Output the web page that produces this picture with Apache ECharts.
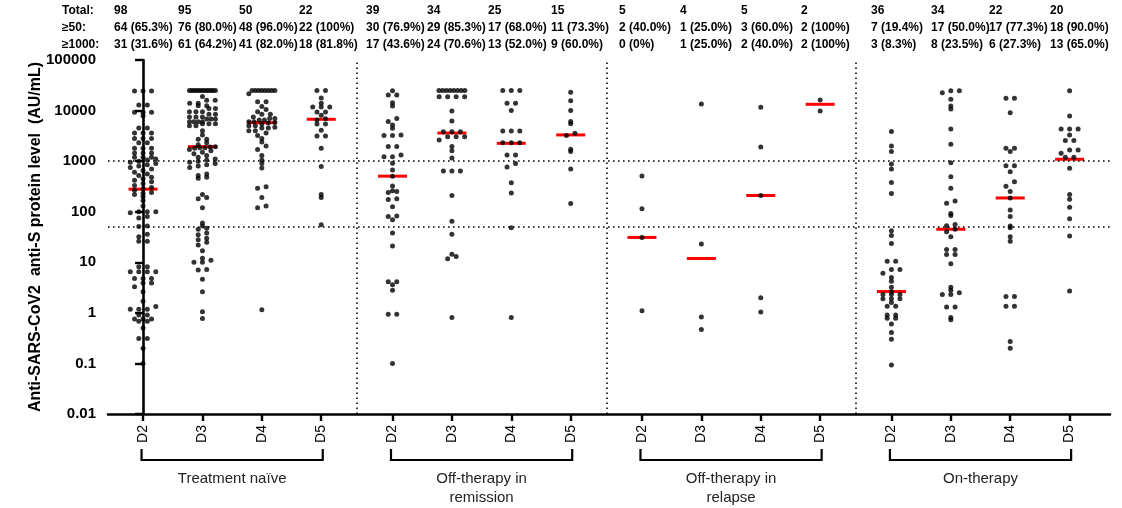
<!DOCTYPE html>
<html>
<head>
<meta charset="utf-8">
<title>Anti-S protein level by dose and group</title>
<script src="https://cdn.jsdelivr.net/npm/echarts@6/dist/echarts.min.js"></script>
<style>
  html, body { margin: 0; padding: 0; background: #fff; }
  #chart { width: 1122px; height: 508px; }
</style>
</head>
<body>
<div id="chart"></div>
<script>
const doses = ['D2', 'D3', 'D4', 'D5']
const groups = ['Treatment naïve', 'Off-therapy in\nremission', 'Off-therapy in\nrelapse', 'On-therapy']
const yTickLabels = ['0.01', '0.1', '1', '10', '100', '1000', '10000', '100000']

const totals = ['98', '95', '50', '22', '39', '34', '25', '15', '5', '4', '5', '2', '36', '34', '22', '20']
const atLeast50 = ['64 (65.3%)', '76 (80.0%)', '48 (96.0%)', '22 (100%)', '30 (76.9%)', '29 (85.3%)', '17 (68.0%)', '11 (73.3%)',
  '2 (40.0%)', '1 (25.0%)', '3 (60.0%)', '2 (100%)', '7 (19.4%)', '17 (50.0%)', '17 (77.3%)', '18 (90.0%)']
const atLeast1000 = ['31 (31.6%)', '61 (64.2%)', '41 (82.0%)', '18 (81.8%)', '17 (43.6%)', '24 (70.6%)', '13 (52.0%)', '9 (60.0%)',
  '0 (0%)', '1 (25.0%)', '2 (40.0%)', '2 (100%)', '3 (8.3%)', '8 (23.5%)', '6 (27.3%)', '13 (65.0%)']

// medians (red bars), AU/mL
const medians = [279, 1936, 5770, 6730, 505, 3600, 2250, 3300, 31, 11.9, 209, 13300, 2.64, 45, 187, 1090]

// Treatment naive
const naiveD2 = [24500, 24500, 24500, 12900, 12900, 9300, 9300, 9300, 7900, 4500, 4500, 3600, 3600, 3600,
  2800, 2800, 2800, 2300, 2300, 1800, 1800, 1800, 1450, 1450, 1450, 1200, 1200, 1200, 1100, 1050, 1000,
  950, 900, 850, 800, 750, 700, 650, 600, 560, 520, 480, 450, 420, 390, 360, 330, 300, 285,
  265, 240, 232, 220, 200, 166, 130, 100, 100, 100, 95, 80, 75, 52, 51,
  36, 32, 26, 26, 8.2, 8.2, 6.5, 6.5, 6.5, 6.5, 4.8, 4.8, 4.8, 3.9, 3.9, 3.3, 2.6, 1.7, 1.33,
  1.18, 1.18, 1.18, 0.91, 0.91, 0.76, 0.76, 0.76, 0.68, 0.68, 0.5, 0.31, 0.31, 0.2, 0.1]
const naiveD3 = [25000, 25000, 25000, 25000, 25000, 25000, 25000, 25000, 25000, 25000, 25000, 25000,
  19000, 16000, 16000, 14000, 14000, 12500, 12500, 11000, 11000, 9500, 9500, 9500, 8500, 8500,
  7500, 7500, 7500, 6800, 6800, 6800, 6000, 6000, 6000, 6000, 5500, 5500, 5500, 5000, 5000,
  4000, 3300, 2700, 2700, 2300, 2100, 1936,
  1900, 1850, 1850, 1800, 1700, 1600, 1500, 1400, 1300, 1200, 1100, 1050, 1000,
  950, 900, 850, 800, 750, 560, 520, 480, 460, 220, 190, 180, 120, 60, 52,
  47, 45, 38, 35, 30, 28, 25, 22, 17, 12, 11, 10, 10, 7.2, 7, 4.6, 2.6, 1.05, 0.77]
const naiveD4 = [25000, 25000, 25000, 25000, 25000, 25000, 25000, 25000, 21500, 15000, 15000, 12000, 10500,
  9500, 8500, 8500, 7500, 7000, 7000, 6500, 6500, 6000, 6000, 5800, 5700, 5400, 5000, 5000, 4700,
  4500, 4500, 4000, 4000, 3600, 3200, 2800, 2400, 2000, 1700, 1300, 1050,
  900, 730, 310, 290, 190, 130, 120, 1.15]
const naiveD5 = [25000, 25000, 17700, 14000, 11800, 11800, 11800, 9400, 9400, 8100, 6900, 6500,
  5400, 5400, 4100, 3150, 3150, 1800, 780, 220, 190, 55]

// Off-therapy in remission
const remissionD2 = [24700, 20300, 20300, 14300, 12300, 7000, 6060, 5200, 4470, 3300, 3200, 3200,
  1940, 1940, 1330, 1220, 1220, 910, 670, 505, 323, 260, 250, 240, 180, 175, 125, 82, 80, 69,
  38, 21, 4.1, 4.1, 3.6, 2.8, 0.94, 0.94, 0.1]
const remissionD3 = [25000, 25000, 25000, 25000, 25000, 25000, 25000, 25000, 18800, 18800, 18800, 18800,
  9800, 6200, 3800, 3800, 3800, 3050, 3050, 3050, 2630, 1940, 1610, 1150,
  640, 640, 640, 210, 65, 36, 14.5, 13, 11.7, 0.81]
const remissionD4 = [25000, 25000, 25000, 13900, 13900, 10000, 3940, 3940, 3940, 2300, 2300, 2300,
  1330, 1330, 900, 770, 375, 235, 48, 0.81]
const remissionD5 = [23000, 15700, 10000, 6060, 5500, 3560, 3200, 1720, 1550, 700, 145]

// Off-therapy in relapse
const relapseD2 = [510, 115, 31, 1.1]
const relapseD3 = [13500, 23, 0.83, 0.47]
const relapseD4 = [11600, 1900, 209, 2.0, 1.04]
const relapseD5 = [16200, 9800]

// On-therapy
const onTherapyD2 = [3840, 2000, 1550, 880, 700, 380, 230,
  42, 34, 23.4, 10.5, 10.5, 7.2, 7.2, 6.1, 5, 4.2, 3.2, 2.6, 2.3, 2.3, 2.3, 1.9, 1.9, 1.9, 1.6,
  1.35, 1.35, 0.91, 0.91, 0.78, 0.78, 0.6, 0.41, 0.3, 0.093]
const onTherapyD3 = [24700, 24700, 22600, 16800, 12300, 10700, 4330, 2150,
  930, 490, 290, 163, 147, 92, 84, 56, 53,
  45, 40, 32, 18, 18, 14.3, 14.3, 9.4, 3.2, 2.8, 2.5, 2.3, 2.3, 1.3, 1.3, 0.81, 0.73]
const onTherapyD4 = [17500, 17500, 9100, 1800, 1800, 1550, 810, 810, 620, 390, 320, 250, 187, 108, 80, 52,
  48, 32, 26, 2.1, 2.1, 1.35, 1.35, 0.27, 0.2]
const onTherapyD5 = [24700, 7800, 4330, 4330, 4330, 3300, 2560, 2560, 1660, 1660, 1430, 1190, 1190,
  720, 220, 177, 122, 73, 33, 2.7]

const columns = [naiveD2, naiveD3, naiveD4, naiveD5, remissionD2, remissionD3, remissionD4, remissionD5,
  relapseD2, relapseD3, relapseD4, relapseD5, onTherapyD2, onTherapyD3, onTherapyD4, onTherapyD5]

// layout
const GROUP_STEP = 4.2
const colPos = i => Math.floor(i / 4) * GROUP_STEP + (i % 4)
const positions = columns.map((_, i) => colPos(i))
const separators = [3.6, 7.8, 12.0]
const headerX = [114, 178, 239, 299, 366, 427, 488, 551, 619, 680, 741, 801, 871, 931, 989, 1050]
const FONT = '"Liberation Sans", Arial, sans-serif'
const PX_PER_DECADE = 354 / 7

// row layout like a column scatter: values falling in the same
// 4.6 px band share a row, spread evenly around the centre
const ROW_H = 4.6
const STEP_X = 8.5
const ROW_MAX = 26

function swarmOffsets(values) {
  const offsets = new Array(values.length).fill(0)
  const rows = new Map()
  values.forEach((v, i) => {
    const r = Math.round(Math.log10(v) * PX_PER_DECADE / ROW_H)
    if (!rows.has(r)) rows.set(r, [])
    rows.get(r).push(i)
  })
  rows.forEach(idx => {
    idx.sort((a, b) => values[a] - values[b])
    const n = idx.length
    const step = n > 1 ? Math.min(STEP_X, ROW_MAX / (n - 1)) : 0
    idx.forEach((i, k) => { offsets[i] = (k - (n - 1) / 2) * step })
  })
  return offsets
}

const dots = []
columns.forEach((vals, c) => {
  const off = swarmOffsets(vals)
  vals.forEach((v, k) => {
    dots.push({ value: [positions[c], v], symbolOffset: [off[k], 0] })
  })
})

const headerRows = [
  { label: 'Total:', cells: totals, y: 12 },
  { label: '≥50:', cells: atLeast50, y: 29 },
  { label: '≥1000:', cells: atLeast1000, y: 46 }
]
const graphic = []
headerRows.forEach(row => {
  graphic.push({ type: 'text', left: 62, top: row.y - 7,
    style: { text: row.label, font: 'bold 12px ' + FONT, fill: '#000' } })
  row.cells.forEach((t, i) => {
    graphic.push({ type: 'text', left: headerX[i], top: row.y - 7,
      style: { text: t, font: 'bold 12px ' + FONT, fill: '#000' } })
  })
})

const chart = echarts.init(document.getElementById('chart'))

chart.setOption({
  animation: false,
  grid: { left: 108, right: 12, top: 60, bottom: 94 },
  graphic,
  xAxis: {
    type: 'value',
    min: -0.59,
    max: 16.28,
    splitLine: { show: false },
    axisLine: { onZero: false, lineStyle: { color: '#000', width: 2.6 } },
    axisTick: { customValues: positions, length: 7, lineStyle: { color: '#000', width: 2.4 } },
    axisLabel: {
      customValues: positions,
      rotate: 90,
      margin: 11,
      color: '#000',
      fontSize: 14,
      fontFamily: FONT,
      formatter: v => {
        const i = positions.findIndex(p => Math.abs(p - v) < 1e-6)
        return i >= 0 ? doses[i % 4] : ''
      }
    }
  },
  yAxis: {
    type: 'log',
    logBase: 10,
    min: 0.01,
    max: 100000,
    name: 'Anti-SARS-CoV2  anti-S protein level  (AU/mL)',
    nameLocation: 'middle',
    nameRotate: 90,
    nameGap: 64,
    nameMoveOverlap: false,
    nameTextStyle: { color: '#000', fontSize: 16, fontWeight: 'bold', fontFamily: FONT },
    splitLine: { show: false },
    axisLine: { lineStyle: { color: '#000', width: 2.6 } },
    axisTick: { length: 8, lineStyle: { color: '#000', width: 2.4 } },
    axisLabel: {
      color: '#000',
      fontSize: 15,
      fontWeight: 'bold',
      fontFamily: FONT,
      margin: 12,
      formatter: v => yTickLabels[Math.round(Math.log10(v)) + 2]
    }
  },
  series: [
    {
      type: 'custom',
      name: 'median',
      z: 2,
      data: medians.map((m, i) => [positions[i], m]),
      renderItem: (params, api) => {
        const p = api.coord([api.value(0), api.value(1)])
        return {
          type: 'line',
          shape: { x1: p[0] - 14.5, y1: p[1], x2: p[0] + 14.5, y2: p[1] },
          style: { stroke: '#ff0000', lineWidth: 3 }
        }
      }
    },
    {
      type: 'scatter',
      name: 'antiS',
      z: 3,
      symbol: 'circle',
      symbolSize: 5,
      itemStyle: { color: '#000' },
      emphasis: { disabled: true },
      data: dots,
      markLine: {
        silent: true,
        symbol: 'none',
        label: { show: false },
        lineStyle: { color: '#000', type: [1.6, 3.4], width: 1.6 },
        data: [{ yAxis: 50 }, { yAxis: 1000 }].concat(separators.map(x => ({ xAxis: x })))
      }
    },
    {
      type: 'custom',
      name: 'groups',
      data: groups.map((g, i) => [i * GROUP_STEP + 1.5, 0.01, i]),
      renderItem: (params, api) => {
        const gi = api.value(2)
        const left = api.coord([gi * GROUP_STEP, 0.01])
        const right = api.coord([gi * GROUP_STEP + 3, 0.01])
        const mid = api.coord([api.value(0), 0.01])
        const y0 = left[1]
        return {
          type: 'group',
          children: [
            {
              type: 'polyline',
              shape: { points: [[left[0] - 1.5, y0 + 35], [left[0] - 1.5, y0 + 46], [right[0] + 1.5, y0 + 46], [right[0] + 1.5, y0 + 35]] },
              style: { stroke: '#000', lineWidth: 2.2, fill: 'none' }
            },
            {
              type: 'text',
              style: {
                text: groups[gi], x: mid[0], y: y0 + 55,
                textAlign: 'center', textVerticalAlign: 'top',
                font: '15px ' + FONT, fill: '#222', lineHeight: 19
              }
            }
          ]
        }
      }
    }
  ]
})

window.addEventListener('resize', () => chart.resize())
</script>
</body>
</html>
